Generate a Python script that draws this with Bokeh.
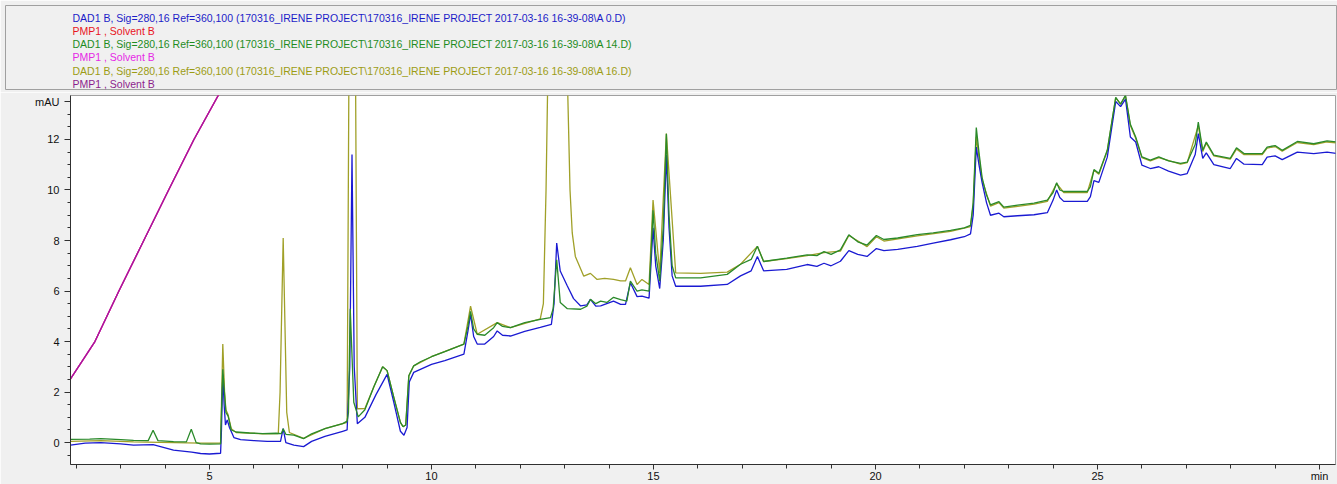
from bokeh.plotting import figure
from bokeh.layouts import column
from bokeh.models import Range1d, FixedTicker, ColumnDataSource
from bokeh.core.properties import value
from bokeh.embed import file_html
from bokeh.resources import INLINE

# ---------------- data ----------------
legend_texts = [
    r"DAD1 B, Sig=280,16 Ref=360,100 (170316_IRENE PROJECT\170316_IRENE PROJECT 2017-03-16 16-39-08\A 0.D)",
    "PMP1 , Solvent B",
    r"DAD1 B, Sig=280,16 Ref=360,100 (170316_IRENE PROJECT\170316_IRENE PROJECT 2017-03-16 16-39-08\A 14.D)",
    "PMP1 , Solvent B",
    r"DAD1 B, Sig=280,16 Ref=360,100 (170316_IRENE PROJECT\170316_IRENE PROJECT 2017-03-16 16-39-08\A 16.D)",
    "PMP1 , Solvent B",
]
legend_colors = ["#1c1cc8", "#e8141e", "#1e8c1e", "#e628e6", "#9c9c14", "#8c1e8c"]

x_major_ticks = [5, 10, 15, 20, 25, 30]
x_tick_labels = {30: "min"}
y_major_ticks = [0, 2, 4, 6, 8, 10, 12, 13.5]
y_tick_labels = {13.5: "mAU"}

# Solvent B gradient (PMP1) - identical for the three runs
t_grad = [1.87, 2.42, 2.96, 3.52, 4.08, 4.65, 5.2, 5.5]
grad = [2.52, 4.0, 6.0, 8.0, 10.0, 12.0, 13.75, 14.8]

# A 0.D (blue)
t_blue = [1.87, 2.2, 2.55, 3.0, 3.29, 3.73, 4.19, 4.6, 4.8, 5.0, 5.25, 5.27, 5.30, 5.33, 5.36, 5.4, 5.45,
          5.55, 5.7, 6.0, 6.3, 6.6, 6.66, 6.72, 6.9, 7.12, 7.3, 7.6, 8.0, 8.1, 8.16, 8.21, 8.26, 8.33, 8.5,
          8.75, 9.0, 9.15, 9.3, 9.38, 9.45, 9.5, 9.6, 9.75, 10.0, 10.3, 10.73, 10.82, 10.88, 10.95, 11.03,
          11.2, 11.4, 11.48, 11.6, 11.78, 12.1, 12.45, 12.7, 12.76, 12.82, 12.9, 13.06, 13.2, 13.36, 13.5,
          13.58, 13.7, 13.81, 14.1, 14.26, 14.37, 14.48, 14.63, 14.74, 14.9, 14.99, 15.05, 15.14, 15.22,
          15.29, 15.35, 15.42, 15.5, 16.06, 16.66, 16.96, 17.2, 17.34, 17.48, 18.0, 18.46, 18.68, 18.84,
          19.0, 19.21, 19.4, 19.6, 19.81, 20.02, 20.19, 20.5, 20.94, 21.3, 21.69, 22.0, 22.14, 22.2, 22.27,
          22.33, 22.4, 22.5, 22.59, 22.78, 22.89, 23.2, 23.57, 23.87, 24.0, 24.08, 24.15, 24.24, 24.5,
          24.77, 24.84, 24.92, 25.03, 25.22, 25.41, 25.52, 25.63, 25.74, 25.86, 26.0, 26.19, 26.38, 26.6,
          26.87, 27.02, 27.2, 27.27, 27.37, 27.45, 27.62, 27.99, 28.13, 28.3, 28.71, 28.82, 29.0, 29.16,
          29.5, 29.87, 30.17, 30.4]
y_blue = [-0.1, -0.02, 0.0, -0.05, -0.1, -0.08, -0.3, -0.38, -0.43, -0.45, -0.42, 0.5, 2.7, 1.5, 0.7, 0.9,
          0.6, 0.2, 0.12, 0.08, 0.05, 0.05, 0.55, 0.0, -0.1, -0.16, 0.05, 0.25, 0.45, 0.5, 3.0, 11.4, 3.0,
          0.75, 1.0, 1.9, 2.7, 1.6, 0.45, 0.29, 0.6, 2.4, 2.78, 2.9, 3.1, 3.25, 3.5, 4.4, 5.08, 4.2, 3.9,
          3.9, 4.2, 4.42, 4.25, 4.22, 4.4, 4.56, 4.68, 5.5, 7.9, 6.79, 6.2, 5.7, 5.41, 5.45, 5.67, 5.4,
          5.41, 5.6, 5.47, 5.47, 6.33, 5.78, 5.8, 5.72, 8.5, 7.0, 6.1, 8.0, 11.38, 8.5, 6.6, 6.19, 6.19,
          6.26, 6.6, 6.8, 7.37, 6.8, 6.86, 7.05, 6.98, 7.1, 7.0, 7.18, 7.6, 7.45, 7.37, 7.68, 7.6, 7.65,
          7.77, 7.9, 8.03, 8.15, 8.26, 9.0, 11.7, 11.0, 10.3, 9.5, 9.0, 9.08, 8.94, 8.98, 9.02, 9.1, 9.6,
          10.0, 9.7, 9.55, 9.55, 9.55, 9.74, 10.37, 10.3, 11.3, 13.5, 13.3, 13.6, 12.1, 11.9, 10.98, 10.85,
          10.92, 10.75, 10.59, 10.65, 11.4, 12.23, 11.25, 11.47, 11.0, 10.85, 11.25, 11.02, 11.0, 11.3,
          11.35, 11.2, 11.5, 11.44, 11.5, 11.44]

# A 14.D (green)
t_green = [1.87, 2.3, 2.55, 3.0, 3.29, 3.62, 3.73, 3.84, 4.19, 4.48, 4.59, 4.70, 4.8, 5.0, 5.25, 5.27,
           5.30, 5.34, 5.37, 5.42, 5.49, 5.6, 5.9, 6.2, 6.5, 6.62, 6.66, 6.72, 6.9, 7.12, 7.3, 7.6, 8.0,
           8.1, 8.13, 8.17, 8.25, 8.35, 8.5, 8.7, 8.9, 9.0, 9.15, 9.3, 9.36, 9.42, 9.49, 9.6, 9.75, 10.0,
           10.3, 10.73, 10.82, 10.88, 10.95, 11.03, 11.2, 11.4, 11.48, 11.6, 11.78, 12.1, 12.45, 12.68,
           12.74, 12.82, 12.9, 13.06, 13.36, 13.5, 13.58, 13.7, 13.81, 13.95, 14.1, 14.26, 14.4, 14.48,
           14.63, 14.74, 14.9, 14.96, 14.99, 15.05, 15.14, 15.22, 15.29, 15.35, 15.42, 15.5, 16.06, 16.66,
           16.96, 17.2, 17.34, 17.48, 18.0, 18.46, 18.68, 18.84, 19.0, 19.21, 19.4, 19.6, 19.81, 20.02,
           20.19, 20.5, 20.94, 21.3, 21.69, 22.0, 22.14, 22.2, 22.27, 22.33, 22.4, 22.5, 22.59, 22.78,
           22.89, 23.2, 23.57, 23.87, 24.0, 24.08, 24.15, 24.24, 24.5, 24.77, 24.84, 24.92, 25.03, 25.22,
           25.41, 25.52, 25.63, 25.74, 25.86, 26.0, 26.19, 26.38, 26.6, 26.87, 27.02, 27.2, 27.27, 27.37,
           27.45, 27.62, 27.99, 28.13, 28.3, 28.71, 28.82, 29.0, 29.16, 29.5, 29.87, 30.17, 30.4]
y_green = [0.13, 0.14, 0.16, 0.12, 0.09, 0.08, 0.49, 0.08, 0.04, 0.03, 0.53, 0.0, -0.05, -0.06, -0.05, 1.2,
           2.9, 1.9, 1.2, 1.05, 0.5, 0.42, 0.38, 0.36, 0.37, 0.36, 0.55, 0.33, 0.3, 0.16, 0.35, 0.55, 0.75,
           0.85, 1.2, 5.3, 1.6, 1.02, 1.3, 2.2, 3.0, 2.85, 1.8, 0.8, 0.63, 0.7, 2.65, 3.04, 3.2, 3.4, 3.6,
           3.9, 4.6, 5.2, 4.5, 4.29, 4.25, 4.55, 4.75, 4.6, 4.55, 4.75, 4.88, 4.95, 5.3, 7.24, 5.55, 5.3,
           5.28, 5.4, 5.67, 5.5, 5.6, 5.55, 5.75, 5.66, 5.6, 6.39, 6.0, 6.05, 6.0, 8.0, 9.2, 7.5, 6.39, 8.5,
           12.23, 9.0, 7.0, 6.52, 6.52, 6.66, 7.06, 7.25, 7.77, 7.17, 7.3, 7.43, 7.4, 7.56, 7.45, 7.63, 8.23,
           7.95, 7.82, 8.2, 8.04, 8.1, 8.23, 8.3, 8.4, 8.5, 8.6, 9.5, 12.47, 11.5, 10.5, 9.8, 9.41, 9.54,
           9.32, 9.4, 9.48, 9.6, 9.9, 10.29, 10.0, 9.94, 9.94, 9.94, 10.13, 10.81, 10.66, 11.57, 13.67, 13.4,
           13.75, 12.6, 12.1, 11.31, 11.18, 11.31, 11.15, 11.05, 11.1, 11.8, 12.69, 11.57, 11.9, 11.38,
           11.25, 11.67, 11.44, 11.44, 11.7, 11.76, 11.57, 11.92, 11.83, 11.94, 11.9]

# A 16.D (olive)
t_olive = [1.87, 2.55, 3.29, 4.19, 4.8, 5.25, 5.27, 5.30, 5.34, 5.37, 5.42, 5.49, 5.6, 6.2, 6.55, 6.59,
           6.66, 6.74, 6.8, 7.12, 7.6, 8.0, 8.1, 8.14, 8.29, 8.33, 8.5, 8.7, 8.9, 9.0, 9.15, 9.3, 9.36,
           9.42, 9.49, 9.6, 10.0, 10.73, 10.88, 11.03, 11.48, 11.78, 12.45, 12.52, 12.58, 12.62, 13.06,
           13.12, 13.17, 13.24, 13.43, 13.58, 13.73, 13.9, 14.1, 14.26, 14.37, 14.48, 14.63, 14.74, 14.9,
           14.99, 15.14, 15.29, 15.5, 16.06, 16.66, 16.96, 17.34, 17.48, 18.0, 18.46, 18.84, 19.21, 19.4,
           19.81, 20.02, 20.19, 20.94, 21.69, 22.14, 22.2, 22.27, 22.4, 22.59, 22.78, 22.89, 23.57, 23.87,
           24.08, 24.24, 24.77, 24.92, 25.03, 25.22, 25.41, 25.52, 25.63, 25.74, 25.86, 26.0, 26.19, 26.38,
           26.87, 27.02, 27.27, 27.37, 27.45, 27.62, 27.99, 28.13, 28.3, 28.71, 28.82, 29.0, 29.16, 29.5,
           29.87, 30.17, 30.4]
y_olive = [0.05, 0.08, 0.03, 0.0, -0.02, -0.02, 1.5, 3.9, 2.0, 1.3, 1.1, 0.55, 0.4, 0.35, 0.36, 2.0, 8.1,
           1.2, 0.4, 0.17, 0.55, 0.75, 0.8, 14.5, 14.5, 1.34, 1.35, 2.2, 3.0, 2.85, 1.8, 0.8, 0.63, 0.7,
           2.65, 3.04, 3.4, 3.9, 5.4, 4.29, 4.75, 4.55, 4.9, 5.5, 10.0, 14.5, 14.5, 10.0, 8.3, 7.37, 6.59,
           6.7, 6.46, 6.5, 6.46, 6.4, 6.4, 6.92, 6.26, 6.46, 6.26, 9.6, 6.72, 12.23, 6.72, 6.7, 6.75, 7.06,
           7.77, 7.17, 7.28, 7.4, 7.52, 7.58, 8.2, 7.76, 8.15, 7.98, 8.18, 8.36, 8.55, 9.4, 12.1, 10.4,
           9.36, 9.5, 9.28, 9.44, 9.55, 10.25, 9.9, 9.9, 10.78, 10.62, 11.55, 13.65, 13.4, 13.72, 12.55,
           12.05, 11.28, 11.15, 11.28, 11.02, 11.08, 12.55, 11.52, 11.85, 11.35, 11.22, 11.62, 11.4, 11.4,
           11.66, 11.72, 11.54, 11.88, 11.8, 11.9, 11.86]

# ---------------- header ----------------
FONT = value("Liberation Sans")
W = 1337
HEAD_H = 92

header = figure(width=W, height=HEAD_H, x_range=Range1d(5, 1337), y_range=Range1d(89, 5),
                output_backend="svg", toolbar_location=None,
                min_border_left=5, min_border_right=0, min_border_top=5, min_border_bottom=3)
if hasattr(header, "frame_align"):
    header.frame_align = False
header.axis.visible = False
header.grid.visible = False
header.background_fill_color = "#f0f0f0"
header.border_fill_color = "#f0f0f0"
header.outline_line_color = "#a0a0a0"

hsrc = ColumnDataSource(dict(x=[72] * 6, y=[17, 30.3, 43.5, 56.8, 70, 83.2],
                             text=legend_texts, color=legend_colors))
header.text(x="x", y="y", text="text", text_color="color", source=hsrc,
            text_font=FONT, text_font_size=value("10.5px"), text_baseline="middle", text_align="left")

# ---------------- chromatogram ----------------
p = figure(width=W, height=484 - HEAD_H, x_range=Range1d(1.87, 30.36), y_range=Range1d(-0.866, 13.74),
           output_backend="svg", toolbar_location=None,
           min_border_left=70, min_border_right=2, min_border_top=3, min_border_bottom=18)
if hasattr(p, "frame_align"):
    p.frame_align = False
p.grid.visible = False
p.background_fill_color = "white"
p.border_fill_color = "#f0f0f0"
p.outline_line_color = "#a0a0a0"

p.line(t_grad, grad, line_color="#e8141e", line_width=1.3)
p.line(t_grad, grad, line_color="#e628e6", line_width=1.3)
p.line(t_grad, grad, line_color="#9a1490", line_width=1.3, line_alpha=0.85)

p.line(t_olive, y_olive, line_color="#a0a028", line_width=1.3)
p.line(t_blue, y_blue, line_color="#1a1ad2", line_width=1.3)
p.line(t_green, y_green, line_color="#2a8a2a", line_width=1.3)

for ax in (p.xaxis[0], p.yaxis[0]):
    ax.axis_line_color = "#303030"
    ax.major_tick_line_color = "#303030"
    ax.minor_tick_line_color = "#303030"
    ax.major_label_text_font = "Liberation Sans"
    ax.major_label_text_font_size = "11px"
    ax.major_label_text_color = "#101010"
    ax.major_tick_in = 0
    ax.minor_tick_in = 0

p.xaxis.ticker = FixedTicker(ticks=x_major_ticks, minor_ticks=list(range(2, 31)))
p.xaxis.major_label_overrides = x_tick_labels
p.xaxis.major_tick_out = 5
p.xaxis.minor_tick_out = 4
p.xaxis.major_label_standoff = 0

p.yaxis.ticker = FixedTicker(ticks=y_major_ticks, minor_ticks=[v / 2 for v in range(-1, 28)])
p.yaxis.major_label_overrides = y_tick_labels
p.yaxis.major_tick_out = 6
p.yaxis.minor_tick_out = 3
p.yaxis.major_label_standoff = 5

layout = column(header, p, spacing=0)
open("out.html", "w").write(file_html(layout, INLINE))
